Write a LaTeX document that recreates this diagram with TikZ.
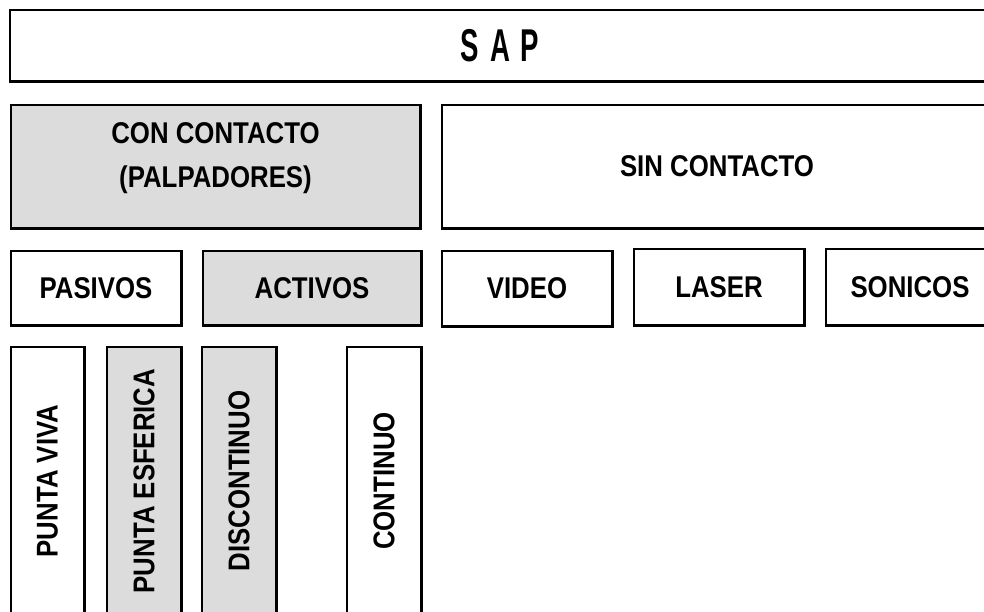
\documentclass[tikz,border=0pt]{standalone}
\usepackage{fontspec}
\newfontfamily\rotulo{Liberation Sans}[FakeStretch=0.86]
\newfontfamily\titulo{Liberation Sans}[FakeStretch=0.6, LetterSpace=24]
\definecolor{grisclaro}{HTML}{DCDCDC}

\begin{document}
\begin{tikzpicture}[x=1pt, y=-1pt]
\tikzset{ texto/.style={font=\rotulo\bfseries\fontsize{30}{44}\selectfont},
  caja/.style={draw=black, line width=1.3pt, fill=white, inner sep=0pt, texto},
  gris/.style={fill=grisclaro},
  sombra/.style={line width=3.5pt, line join=miter},
}

\useasboundingbox (0,0) rectangle (984,611);

% nivel 0
\node [caja, minimum width=980, minimum height=71,
       font=\titulo\bfseries\fontsize{46}{50}\selectfont] (SAP) at (500,45.5) {SAP};

% nivel 1
\node [caja, gris, minimum width=409, minimum height=123,
       label={[texto, align=center, yshift=8.5pt]center:CON CONTACTO\\(PALPADORES)}] (CC) at (215.5,166.5) {};
\node [caja, minimum width=550, minimum height=123] (SC) at (717,166.5) {SIN CONTACTO};

% nivel 2
\node [caja, minimum width=170, minimum height=74] (PAS) at (96,288) {PASIVOS};
\node [caja, gris, minimum width=218, minimum height=74] (ACT) at (312,288) {ACTIVOS};
\node [caja, minimum width=170, minimum height=75] (VID) at (527,288.5) {VIDEO};
\node [caja, minimum width=170, minimum height=76] (LAS) at (719,287) {LASER};
\node [caja, minimum width=168, minimum height=76] (SON) at (910,287) {SONICOS};

% nivel 3
\node [caja, minimum width=73, minimum height=268] (PV) at (47.5,481) {\rotatebox{90}{PUNTA VIVA}};
\node [caja, gris, minimum width=74, minimum height=268] (PE) at (144,481) {\rotatebox{90}{PUNTA ESFERICA}};
\node [caja, gris, minimum width=74, minimum height=268] (DIS) at (239,481) {\rotatebox{90}{DISCONTINUO}};
\node [caja, minimum width=74, minimum height=268] (CON) at (384,481) {\rotatebox{90}{CONTINUO}};

% sombras
\foreach \n in {SAP,CC,SC,PAS,ACT,VID,LAS,SON,PV,PE,DIS,CON}
  \draw [sombra] (\n.south west) -- (\n.south east) -- (\n.north east);

\end{tikzpicture}
\end{document}
